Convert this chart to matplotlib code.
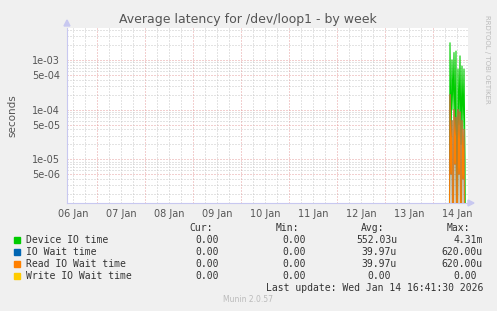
import matplotlib.pyplot as plt
import numpy as np

# data (Jan 14, half-hour steps from 08:00), seconds
hours = [8.0, 8.5, 9.0, 9.5, 10.0, 10.5, 11.0, 11.5, 12.0, 12.5,
         13.0, 13.5, 14.0, 14.5, 15.0, 15.5, 16.0, 16.5]
device_io = [0, 2.2e-3, 2e-5, 1.0e-3, 1e-4, 1.4e-3, 3e-5, 1.5e-3, 0, 6.5e-4,
             5e-5, 1.2e-3, 2e-5, 7.5e-4, 4e-5, 6.5e-4, 1e-5, 0]
io_wait = [0, 2e-4, 5e-6, 6e-5, 0, 1e-4, 8e-6, 7e-5, 0, 1e-4,
           5e-6, 9e-5, 0, 6e-5, 4e-6, 4e-5, 0, 0]
read_wait = list(io_wait)
write_wait = [0] * len(hours)

day_labels = ["06 Jan", "07 Jan", "08 Jan", "09 Jan", "10 Jan",
              "11 Jan", "12 Jan", "13 Jan", "14 Jan"]

series = [
    ("Device IO time", device_io, "#00CC00", "0.00", "0.00", "552.03u", "4.31m"),
    ("IO Wait time", io_wait, "#0066B3", "0.00", "0.00", "39.97u", "620.00u"),
    ("Read IO Wait time", read_wait, "#FF8000", "0.00", "0.00", "39.97u", "620.00u"),
    ("Write IO Wait time", write_wait, "#FFCC00", "0.00", "0.00", "0.00", "0.00"),
]

W, H = 497, 311
fig = plt.figure(figsize=(W / 100, H / 100), dpi=100, facecolor="#F0F0F0")
ax = fig.add_axes([67 / W, (H - 203) / H, 401 / W, 175 / H])
ax.set_facecolor("white")

# x in days since 06 Jan 00:00
x0, x1 = 0.375, 0.375 + 401 / 48
ymin, ymax = 10 ** -5.88, 10 ** -2.36
ax.set_yscale("log")
ax.set_xlim(x0, x1)
ax.set_ylim(ymin, ymax)

# grid
dots = (0, (1, 2))
for k in range(-6, -1):
    for m in range(1, 10):
        v = m * 10.0 ** k
        if ymin < v < ymax:
            major = m in (1, 5)
            ax.axhline(v, color="#E6A0A0" if major else "#C8C8C8",
                       lw=0.72, ls=dots, zorder=1)
for h in range(0, 9 * 24, 6):
    d = h / 24
    if x0 < d < x1:
        major = h % 24 == 0
        ax.axvline(d, color="#E6A0A0" if major else "#C8C8C8",
                   lw=0.72, ls=dots, zorder=1)

xs = [8 + h / 24 for h in hours]
for name, vals, col, *_ in series:
    v = [max(a, 1e-9) for a in vals]
    ax.plot(xs, v, color=col, lw=0.8, zorder=3)

for s in ["top", "right"]:
    ax.spines[s].set_visible(False)
for s in ["left", "bottom"]:
    ax.spines[s].set_color("#C8C8F0")
    ax.spines[s].set_linewidth(0.8)

ax.set_xticks([i + 0.5 for i in range(9)])
ax.set_xticklabels(day_labels)
ax.set_yticks([1e-3, 5e-4, 1e-4, 5e-5, 1e-5, 5e-6])
ax.set_yticklabels(["1e-03", "5e-04", "1e-04", "5e-05", "1e-05", "5e-06"])
ax.yaxis.set_minor_locator(plt.NullLocator())
ax.tick_params(axis="both", length=0, labelsize=7, colors="#555555")
ax.tick_params(axis="x", pad=4)
ax.tick_params(axis="y", pad=5)
fig.text(12 / W, 1 - 116 / H, "seconds", rotation=90, ha="center", va="center",
         fontsize=7.5, color="#555555")

# axis arrows
fig.patches.append(plt.Polygon([[64 / W, 1 - 26 / H], [70 / W, 1 - 26 / H], [67 / W, 1 - 20 / H]],
                               closed=True, transform=fig.transFigure, color="#C8C8F0"))
fig.patches.append(plt.Polygon([[468 / W, 1 - 200 / H], [468 / W, 1 - 206 / H], [474 / W, 1 - 203 / H]],
                               closed=True, transform=fig.transFigure, color="#C8C8F0"))

fig.text(248 / W, 1 - 19 / H, "Average latency for /dev/loop1 - by week",
         ha="center", va="center", fontsize=9, color="#555555")
fig.text(487 / W, 1 - 15 / H, "RRDTOOL / TOBI OETIKER", rotation=270,
         ha="center", va="top", fontsize=5, color="#BBBBBB")

mono = "DejaVu Sans Mono"
fs = 7
tc = "#333333"
ch = 6.0
hy = 228
for lbl, xr in [("Cur:", 213), ("Min:", 299), ("Avg:", 384), ("Max:", 470)]:
    fig.text(xr / W, 1 - hy / H, lbl, ha="right", va="center", family=mono, fontsize=fs, color=tc)

def val_right(s, xr):
    return xr if s[-1] in "um" else xr - ch

for i, (name, vals, col, cur, mn, avg, mx) in enumerate(series):
    y = 240 + 12 * i
    fig.patches.append(plt.Rectangle((14 / W, 1 - (y + 3) / H), 6 / W, 6 / H,
                                     transform=fig.transFigure, color=col))
    fig.text(26 / W, 1 - y / H, name, ha="left", va="center", family=mono, fontsize=fs, color=tc)
    for s, xr in [(cur, 225), (mn, 312), (avg, 397), (mx, 483)]:
        fig.text(val_right(s, xr) / W, 1 - y / H, s, ha="right", va="center",
                 family=mono, fontsize=fs, color=tc)

fig.text(483 / W, 1 - 288 / H, "Last update: Wed Jan 14 16:41:30 2026",
         ha="right", va="center", family=mono, fontsize=fs, color=tc)
fig.text(248 / W, 1 - 300 / H, "Munin 2.0.57", ha="center", va="center",
         fontsize=5.5, color="#BBBBBB")

fig.savefig("out.png", dpi=100, facecolor=fig.get_facecolor())
